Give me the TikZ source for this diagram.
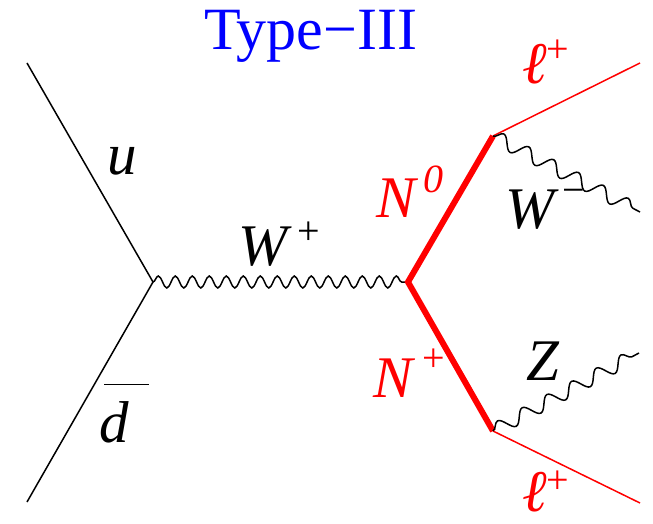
\documentclass[tikz,border=0pt]{standalone}
\usepackage{fontspec}
\setmainfont{Liberation Serif}
\usetikzlibrary{decorations.pathmorphing}

\newcommand{\labfont}{\fontsize{29.5}{33}\selectfont\itshape}
\newcommand{\supfont}{\fontsize{20}{24}\selectfont\upshape}
% label with a raised superscript: {gap}{raise}{symbol}
\newcommand{\withsup}[3]{\hspace{#1}\raisebox{#2}{\supfont #3}}

\begin{document}
\begin{tikzpicture}[x=0.5pt, y=-0.5pt,
  quark/.style={draw=black, line width=0.75pt},
  lepton/.style={draw=red, line width=0.75pt},
  heavy/.style={draw=red, line width=3pt, line join=miter},
  boson/.style={draw=black, line width=0.75pt, decorate,
    decoration={snake, segment length=8.5pt, amplitude=3pt}},
  bosonout/.style={draw=black, line width=0.75pt, decorate,
    decoration={snake, segment length=14pt, amplitude=3.4pt}},
  lab/.style={anchor=base west, inner sep=0pt, font=\labfont},
  redlab/.style={lab, text=red}
]
\useasboundingbox (0,0) rectangle (653,524);

%% ==== Vertices and external legs ====
\coordinate (qin)  at (27,63);
\coordinate (qbar) at (27,502);
\coordinate (v1)   at (153,282);
\coordinate (v2)   at (408,282);
\coordinate (v3)   at (493,136);
\coordinate (v4)   at (493,431);
\coordinate (lup)  at (640,63);
\coordinate (wout) at (640,212);
\coordinate (zout) at (639,353);
\coordinate (ldn)  at (640,503);

%% ==== Propagators ====
\draw[quark] (qin) -- (v1) -- (qbar);
\draw[boson] (v1) -- (v2);
\draw[heavy] (v3) -- (v2) -- (v4);
\draw[lepton] (v3) -- (lup);
\draw[lepton] (v4) -- (ldn);
\draw[bosonout] (v3) -- (wout);
\draw[bosonout] (v4) -- (zout);

%% ==== Labels ====
\node[anchor=base, inner sep=0pt, font=\fontsize{30}{34}\selectfont, text=blue]
  (title) at (310.5,50) {Type\textminus III};
\node[lab] (ulab) at (107,175) {u};
\node[lab] (dlab) at (99,442)
  {\rlap{d}\hspace{2.5pt}\raisebox{28.5pt}{\rule{22.5pt}{0.75pt}}};
\node[lab] (wplab) at (238,265) {W\withsup{5pt}{10.5pt}{+}};
\node[redlab] (n0lab) at (376,217) {N\withsup{4pt}{12.5pt}{\itshape 0}};
\node[lab] (wmlab) at (505,228) {W\withsup{4pt}{12.5pt}{\textminus}};
\node[redlab] (nplab) at (373,397) {N\withsup{5pt}{13pt}{+}};
\node[lab] (zlab) at (526,380) {Z};
\node[redlab] (lulab) at (522,84) {ℓ\withsup{0pt}{10.5pt}{+}};
\node[redlab] (ldlab) at (522,511) {ℓ\withsup{0pt}{9pt}{+}};

\end{tikzpicture}
\end{document}
